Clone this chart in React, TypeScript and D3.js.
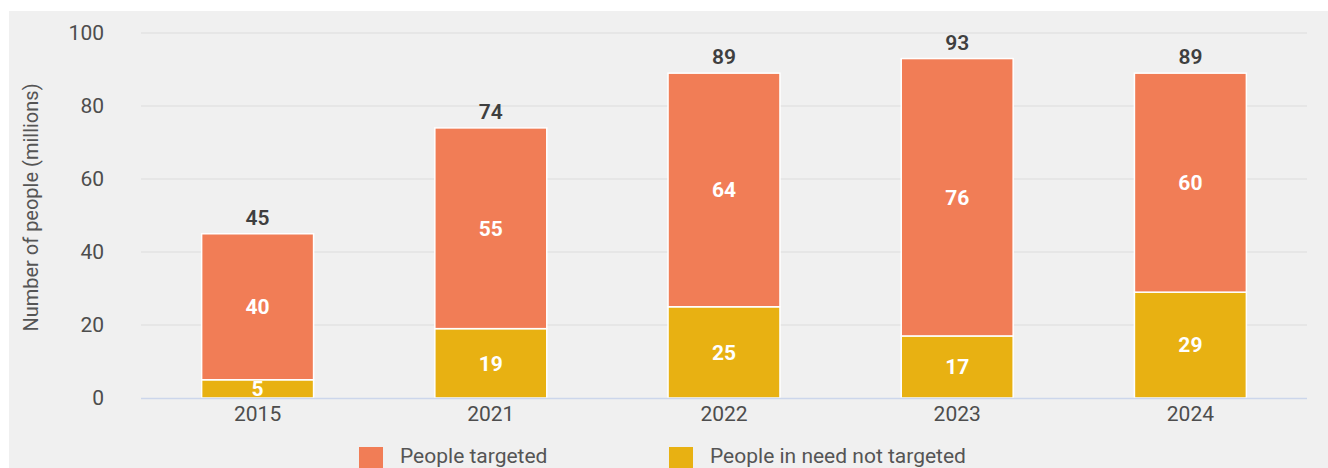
import React from "react";
import * as d3 from "d3";

const years = ["2015", "2021", "2022", "2023", "2024"];
const targeted = [40, 55, 64, 76, 60];
const notTargeted = [5, 19, 25, 17, 29];
const yTicks = [0, 20, 40, 60, 80, 100];
const seriesNames = ["People targeted", "People in need not targeted"];
const seriesColors = ["#f17d56", "#e8b112"];

const W = 1328;
const H = 468;
const FONT = "Roboto, 'Noto Sans', sans-serif";

export default function App() {
  const x = d3.scaleBand<string>().domain(years).range([141, 1307]).paddingInner(0.52).paddingOuter(0.26);
  const y = d3.scaleLinear().domain([0, 100]).range([398, 33]);

  const rows = years.map((yr, i) => ({ year: yr, notTargeted: notTargeted[i], targeted: targeted[i] }));
  const stack = d3.stack<any>().keys(["notTargeted", "targeted"]);
  const layers = stack(rows);
  const layerColor = { notTargeted: seriesColors[1], targeted: seriesColors[0] } as Record<string, string>;

  const bw = x.bandwidth();

  return (
    <svg width={W} height={H} style={{ position: "absolute", left: 0, top: 0, fontFamily: FONT }}>
      <rect x={9} y={11} width={W - 9} height={H - 11} fill="#f0f0f0" />
      {yTicks.map((t) => (
        <g key={t}>
          {t > 0 && <line x1={141} x2={1307} y1={y(t)} y2={y(t)} stroke="#e3e3e3" strokeWidth={1.5} />}
          <text x={104} y={y(t)} dy="0.32em" textAnchor="end" fontSize={21} fill="#4d4d4d">
            {t}
          </text>
        </g>
      ))}
      <text
        transform={`translate(38,${(y(0) + y(100)) / 2 - 8}) rotate(-90)`}
        textAnchor="middle"
        fontSize={20}
        fill="#555"
      >
        Number of people (millions)
      </text>
      {layers.map((layer) => (
        <g key={layer.key}>
          {layer.map((d, i) => (
            <g key={i}>
              <rect
                x={x(years[i])!}
                y={y(d[1])}
                width={bw}
                height={y(d[0]) - y(d[1])}
                fill={layerColor[layer.key]}
                stroke="#ffffff"
                strokeWidth={1.5}
              />
            </g>
          ))}
        </g>
      ))}
      <line x1={141} x2={1307} y1={y(0) + 0.5} y2={y(0) + 0.5} stroke="#ccd6eb" strokeWidth={1.5} />
      {layers.map((layer) =>
        layer.map((d, i) => (
          <text
            key={layer.key + i}
            x={x(years[i])! + bw / 2}
            y={(y(d[0]) + y(d[1])) / 2}
            dy="0.35em"
            textAnchor="middle"
            fontSize={21}
            fontWeight={700}
            fill="#ffffff"
          >
            {d[1] - d[0]}
          </text>
        ))
      )}
      {years.map((yr, i) => (
        <text
          key={"tot" + yr}
          x={x(yr)! + bw / 2}
          y={y(targeted[i] + notTargeted[i]) - 9}
          textAnchor="middle"
          fontSize={21}
          fontWeight={600}
          fill="#3f3f3f"
        >
          {targeted[i] + notTargeted[i]}
        </text>
      ))}
      {years.map((yr) => (
        <text key={"c" + yr} x={x(yr)! + bw / 2} y={421} textAnchor="middle" fontSize={21} fill="#4d4d4d">
          {yr}
        </text>
      ))}
      {seriesNames.map((name, i) => (
        <g key={name} transform={`translate(${i === 0 ? 359 : 669},447)`}>
          <rect x={0} y={0} width={24} height={24} fill={seriesColors[i]} />
          <text x={41} y={16} fontSize={21} fill="#555">
            {name}
          </text>
        </g>
      ))}
    </svg>
  );
}
